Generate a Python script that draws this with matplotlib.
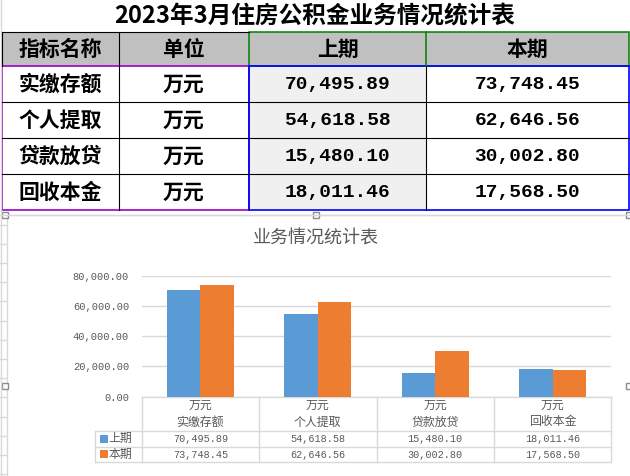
import matplotlib
matplotlib.use("Agg")
import matplotlib.pyplot as plt
import numpy as np
from matplotlib.patches import Rectangle
from matplotlib.transforms import blended_transform_factory

plt.rcParams['font.family'] = ['Noto Sans CJK SC', 'DejaVu Sans']

TITLE = "2023年3月住房公积金业务情况统计表"
CHART_TITLE = "业务情况统计表"
headers = ["指标名称", "单位", "上期", "本期"]
items = ["实缴存额", "个人提取", "贷款放贷", "回收本金"]
units = ["万元", "万元", "万元", "万元"]
prev_period = [70495.89, 54618.58, 15480.10, 18011.46]
curr_period = [73748.45, 62646.56, 30002.80, 17568.50]
series_names = ["上期", "本期"]
y_ticks = [0, 20000, 40000, 60000, 80000]

BLUE = "#5B9BD5"
ORANGE = "#ED7D31"
GRAY_TXT = "#595959"
GRID = "#D9D9D9"
NUM_FONT = ["Liberation Mono", "DejaVu Sans Mono"]
CELL_WEIGHT = "bold"

fig = plt.figure(figsize=(6.3, 4.76), dpi=100)

# background axes in pixel units (y downwards)
bg = fig.add_axes([0, 0, 1, 1])
bg.set_xlim(0, 630)
bg.set_ylim(476, 0)
bg.axis("off")

# spreadsheet grid in the left margin
bg.plot([0.5, 0.5], [0, 476], color=GRID, lw=1)
for gy in np.arange(224.7, 476, 19.2):
    bg.plot([0, 6], [gy, gy], color=GRID, lw=1)
bg.plot([0, 630], [215, 215], color=GRID, lw=1)

# ---- spreadsheet table ----
col_edges = [1.5, 118.7, 249, 426, 628.7]
row_edges = [32.3, 65.7, 102, 138, 174, 210]

bg.text(315, 16, TITLE, ha="center", va="center", fontsize=17,
        fontweight="bold", color="black")

bg.add_patch(Rectangle((col_edges[0], row_edges[0]), col_edges[-1] - col_edges[0],
                       row_edges[1] - row_edges[0], fc="#C0C0C0", ec="none"))
bg.add_patch(Rectangle((col_edges[2], row_edges[1]), col_edges[3] - col_edges[2],
                       row_edges[-1] - row_edges[1], fc="#F0F0F0", ec="none"))

black = dict(color="black", lw=0.8)
bg.plot([col_edges[1], col_edges[1]], [row_edges[0], row_edges[-1]], **black)
bg.plot([col_edges[3], col_edges[3]], [row_edges[1], row_edges[-1]], **black)
for ry in row_edges[2:-1]:
    bg.plot([col_edges[0], col_edges[-1]], [ry, ry], **black)
bg.plot([col_edges[0], col_edges[2]], [row_edges[0], row_edges[0]], **black)
bg.plot([col_edges[0], col_edges[0]], [row_edges[0], row_edges[1]], **black)

# coloured cell borders
bg.add_patch(Rectangle((col_edges[2], row_edges[0]), col_edges[4] - col_edges[2],
                       row_edges[1] - row_edges[0], fc="none", ec="#008000", lw=1.1))
bg.plot([col_edges[3], col_edges[3]], [row_edges[0], row_edges[1]], color="#008000", lw=1.1)
bg.add_patch(Rectangle((col_edges[0], row_edges[1]), col_edges[2] - col_edges[0],
                       row_edges[-1] - row_edges[1], fc="none", ec="#9900CC", lw=1.2))
bg.add_patch(Rectangle((col_edges[2], row_edges[1]), col_edges[4] - col_edges[2],
                       row_edges[-1] - row_edges[1], fc="none", ec="#0000FF", lw=1.2))

col_mid = [(a + b) / 2 for a, b in zip(col_edges[:-1], col_edges[1:])]
row_mid = [(a + b) / 2 for a, b in zip(row_edges[:-1], row_edges[1:])]

for cx, h in zip(col_mid, headers):
    bg.text(cx, row_mid[0], h, ha="center", va="center", fontsize=15,
            fontweight=CELL_WEIGHT, color="black")

for i, (name, unit, p, c) in enumerate(zip(items, units, prev_period, curr_period)):
    ry = row_mid[i + 1]
    bg.text(col_mid[0], ry, name, ha="center", va="center", fontsize=15,
            fontweight=CELL_WEIGHT, color="black")
    bg.text(col_mid[1], ry, unit, ha="center", va="center", fontsize=15,
            fontweight=CELL_WEIGHT, color="black")
    bg.text(col_mid[2], ry + 1, f"{p:,.2f}", ha="center", va="center", fontsize=14,
            fontweight="bold", family=NUM_FONT, color="black")
    bg.text(col_mid[3], ry + 1, f"{c:,.2f}", ha="center", va="center", fontsize=14,
            fontweight="bold", family=NUM_FONT, color="black")

# ---- chart frame ----
bg.add_patch(Rectangle((6.5, 215), 640, 400, fc="white", ec=GRID, lw=1))
for hx, hy in [(4.5, 215), (316, 215), (629, 215), (4.5, 386), (629, 386)]:
    bg.add_patch(Rectangle((hx - 3, hy - 3), 6, 6, fc="white", ec="#8C8C8C", lw=1))

bg.text(316, 239, CHART_TITLE, ha="center", va="center", fontsize=13,
        color=GRAY_TXT)

# ---- bar chart ----
ax = fig.add_axes([141.6 / 630, (476 - 396.7) / 476, 469.8 / 630, 121 / 476])
x = np.arange(len(items))
w = 1 / 3.5
ax.bar(x - w / 2, prev_period, w, color=BLUE, label=series_names[0], zorder=2)
ax.bar(x + w / 2, curr_period, w, color=ORANGE, label=series_names[1], zorder=2)
ax.set_xlim(-0.5, len(items) - 0.5)
ax.set_ylim(0, 80000)
ax.set_yticks(y_ticks)
ax.set_yticklabels([f"{t:,.2f}" for t in y_ticks], family=NUM_FONT)
ax.set_xticks([])
ax.yaxis.grid(True, color=GRID, lw=1)
ax.set_axisbelow(True)
for s in ax.spines.values():
    s.set_visible(False)
ax.tick_params(axis="y", length=0, labelsize=7.5, colors=GRAY_TXT, pad=9)
ax.patch.set_alpha(0)

# ---- data table under the chart ----
trans = blended_transform_factory(ax.transData, bg.transData)
table_top, table_rows = 396.7, [431, 446.7, 462]
leg_left = -0.5 - 46.3 / 117.45
line_kw = dict(color=GRID, lw=1, transform=trans, clip_on=False)

for bx in np.arange(-0.5, len(items), 1.0):
    bg.plot([bx, bx], [table_top, table_rows[-1]], **line_kw)
bg.plot([leg_left, leg_left], [table_rows[0], table_rows[-1]], **line_kw)
bg.plot([-0.5, len(items) - 0.5], [table_top, table_top], **line_kw)
for ry in table_rows:
    bg.plot([leg_left, len(items) - 0.5], [ry, ry], **line_kw)

for i in x:
    bg.text(i, 405, units[i], transform=trans, ha="center", va="center",
            fontsize=8.6, color=GRAY_TXT)
    bg.text(i, 422, items[i], transform=trans, ha="center", va="center",
            fontsize=8.6, color=GRAY_TXT)

row_y = [(table_rows[0] + table_rows[1]) / 2, (table_rows[1] + table_rows[2]) / 2]
for ry, name, vals, col in zip(row_y, series_names, [prev_period, curr_period],
                               [BLUE, ORANGE]):
    bg.add_patch(Rectangle((-0.5 - 41.6 / 117.45, ry - 4), 8 / 117.45, 8,
                           fc=col, ec="none", transform=trans, clip_on=False))
    bg.text(-0.5 - 33 / 117.45, ry, name, transform=trans, ha="left", va="center",
            fontsize=8.6, color=GRAY_TXT)
    for i, v in enumerate(vals):
        bg.text(i, ry + 0.5, f"{v:,.2f}", transform=trans, ha="center", va="center",
                fontsize=7.3, family=NUM_FONT, color=GRAY_TXT)

fig.savefig("out.png", dpi=100)
